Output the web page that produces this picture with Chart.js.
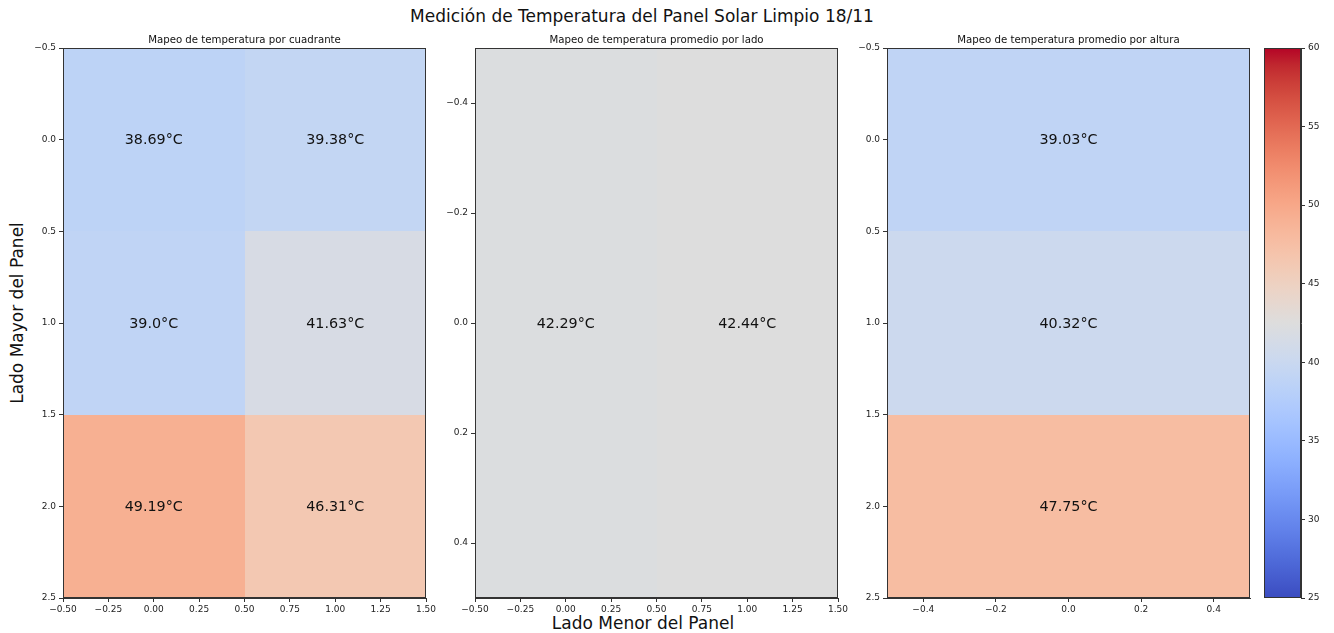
<!DOCTYPE html>
<html>
<head>
<meta charset="utf-8">
<script src="https://cdn.jsdelivr.net/npm/chart.js@4.4.1/dist/chart.umd.min.js"></script>
<style>
  body { margin: 0; background: #fff; font-family: "DejaVu Sans", sans-serif; }
  #wrap { position: relative; width: 1334px; height: 633px; overflow: hidden; }
  canvas { position: absolute; top: 0; }
  .txt { position: absolute; color: #111; white-space: nowrap; font-size: 17px; }
</style>
</head>
<body>
<div id="wrap">
  <div class="txt" id="suptitle" style="left:0; width:1284px; top:6px; text-align:center; line-height:20px;">Medición de Temperatura del Panel Solar Limpio 18/11</div>
  <div class="txt" id="ylab" style="left:17px; top:313px; transform: translate(-50%,-50%) rotate(-90deg);">Lado Mayor del Panel</div>
  <div class="txt" style="left:643px; top:623px; transform: translate(-50%,-50%);">Lado Menor del Panel</div>
  <canvas id="quad" width="445" height="633" style="left:0;width:445px;height:633px"></canvas>
  <canvas id="side" width="412" height="633" style="left:445px;width:412px;height:633px"></canvas>
  <canvas id="alt" width="400" height="633" style="left:857px;width:400px;height:633px"></canvas>
  <canvas id="cbar" width="77" height="633" style="left:1257px;width:77px;height:633px"></canvas>
</div>
<script>
// temperatures (°C)
var quadrantValues = [
    [38.69, 39.38],
    [39.0, 41.63],
    [49.19, 46.31]
];
var sideValues = [42.29, 42.44];
var heightValues = [39.03, 40.32, 47.75];

var quadXTicks = [-0.5, -0.25, 0, 0.25, 0.5, 0.75, 1, 1.25, 1.5];
var quadYTicks = [-0.5, 0, 0.5, 1, 1.5, 2, 2.5];
var sideXTicks = [-0.5, -0.25, 0, 0.25, 0.5, 0.75, 1, 1.25, 1.5];
var sideYTicks = [-0.4, -0.2, 0, 0.2, 0.4];
var heightXTicks = [-0.4, -0.2, 0, 0.2, 0.4];
var heightYTicks = [-0.5, 0, 0.5, 1, 1.5, 2, 2.5];
var colorbarTicks = [25, 30, 35, 40, 45, 50, 55, 60];
var vmin = 25, vmax = 60;

// matplotlib coolwarm
var coolwarm = [
    [59,76,192],[68,90,204],[77,104,215],[87,117,225],[98,130,234],[108,142,241],
    [119,154,247],[130,165,251],[141,176,254],[152,185,255],[163,194,255],[174,201,253],
    [184,208,249],[194,213,244],[204,217,238],[213,219,230],[221,221,221],[229,216,209],
    [236,211,197],[241,204,184],[245,196,172],[247,187,160],[247,177,148],[247,166,135],
    [244,154,123],[241,141,111],[236,127,99],[229,112,88],[222,96,77],[213,80,66],
    [203,62,56],[192,40,47],[180,4,38]
];

function colorFor(v) {
    var t = Math.min(1, Math.max(0, (v - vmin) / (vmax - vmin)));
    var p = t * (coolwarm.length - 1);
    var i = Math.min(coolwarm.length - 2, Math.floor(p));
    var f = p - i;
    var a = coolwarm[i], b = coolwarm[i + 1];
    var c = [0, 1, 2].map(function(k) { return Math.round(a[k] + (b[k] - a[k]) * f); });
    return 'rgb(' + c.join(',') + ')';
}

function fmt(dec) {
    return function(v) {
        var s = Math.abs(v).toFixed(dec);
        return (v < -1e-9 ? '\u2212' : '') + s;
    };
}

function cellLabel(v) {
    return (Number.isInteger(v) ? v.toFixed(1) : String(v)) + '°C';
}

function toPoints(grid) {
    var pts = [];
    grid.forEach(function(row, r) {
        row.forEach(function(v, c) { pts.push({ x: c, y: r, v: v }); });
    });
    return pts;
}

var axisColor = '#333';
var tickFont = { family: 'DejaVu Sans', size: 9 };

var heatmapPlugin = {
    id: 'heatmap',
    beforeDatasetsDraw: function(chart) {
        var ctx = chart.ctx, xs = chart.scales.x, ys = chart.scales.y;
        ctx.save();
        chart.data.datasets[0].data.forEach(function(p) {
            var x0 = Math.round(xs.getPixelForValue(p.x - 0.5)), x1 = Math.round(xs.getPixelForValue(p.x + 0.5));
            var y0 = Math.round(ys.getPixelForValue(p.y - 0.5)), y1 = Math.round(ys.getPixelForValue(p.y + 0.5));
            ctx.fillStyle = colorFor(p.v);
            ctx.fillRect(Math.min(x0, x1), Math.min(y0, y1), Math.abs(x1 - x0), Math.abs(y1 - y0));
        });
        ctx.restore();
    },
    afterDatasetsDraw: function(chart) {
        var ctx = chart.ctx, xs = chart.scales.x, ys = chart.scales.y, a = chart.chartArea;
        ctx.save();
        ctx.font = '14.3px "DejaVu Sans"';
        ctx.fillStyle = '#111';
        ctx.textAlign = 'center';
        ctx.textBaseline = 'middle';
        chart.data.datasets[0].data.forEach(function(p) {
            ctx.fillText(cellLabel(p.v), xs.getPixelForValue(p.x), ys.getPixelForValue(p.y) + 1);
        });
        ctx.strokeStyle = axisColor;
        ctx.lineWidth = 1;
        ctx.strokeRect(Math.round(a.left) + 0.5, Math.round(a.top) + 0.5,
            Math.round(a.right - a.left) - 1, Math.round(a.bottom - a.top) - 1);
        ctx.restore();
    }
};

function fixedTicks(list) {
    return function(scale) {
        scale.ticks = list.map(function(v) { return { value: v }; });
    };
}

function heatmap(id, points, title, xr, yr, xTicks, yTicks, xDec, yDec, yWidth, padRight) {
    return new Chart(document.getElementById(id), {
        type: 'scatter',
        data: { datasets: [{ data: points, pointRadius: 0, pointHoverRadius: 0 }] },
        options: {
            responsive: false,
            animation: false,
            events: [],
            layout: { padding: { left: 0, right: padRight, top: 0, bottom: 15 } },
            plugins: {
                legend: { display: false },
                tooltip: { enabled: false },
                title: {
                    display: true,
                    text: title,
                    fullSize: false,
                    color: '#111',
                    font: { family: 'DejaVu Sans', size: 10.2, weight: 'normal', lineHeight: 1.2 },
                    padding: { top: 34.5, bottom: 1.3 }
                }
            },
            scales: {
                x: {
                    type: 'linear', min: xr[0], max: xr[1],
                    afterBuildTicks: fixedTicks(xTicks),
                    afterFit: function(s) { s.height = 20; },
                    grid: { drawOnChartArea: false, drawTicks: true, tickLength: 4, color: axisColor },
                    border: { display: true, color: axisColor },
                    ticks: { color: '#222', font: tickFont, padding: 2, maxRotation: 0, autoSkip: false, callback: fmt(xDec) }
                },
                y: {
                    type: 'linear', min: yr[0], max: yr[1], reverse: true,
                    afterBuildTicks: fixedTicks(yTicks),
                    afterFit: function(s) { s.width = yWidth; },
                    grid: { drawOnChartArea: false, drawTicks: true, tickLength: 4, color: axisColor },
                    border: { display: true, color: axisColor },
                    ticks: { color: '#222', font: tickFont, padding: 3, autoSkip: false, callback: fmt(yDec) }
                }
            }
        },
        plugins: [heatmapPlugin]
    });
}

heatmap('quad', toPoints(quadrantValues), 'Mapeo de temperatura por cuadrante',
    [-0.5, 1.5], [-0.5, 2.5], quadXTicks, quadYTicks, 2, 1, 63, 19);
heatmap('side', toPoints([sideValues]), 'Mapeo de temperatura promedio por lado',
    [-0.5, 1.5], [-0.5, 0.5], sideXTicks, sideYTicks, 2, 1, 30, 19);
heatmap('alt', toPoints(heightValues.map(function(v) { return [v]; })), 'Mapeo de temperatura promedio por altura',
    [-0.5, 0.5], [-0.5, 2.5], heightXTicks, heightYTicks, 1, 1, 30, 7);

// colorbar
var colorbarPlugin = {
    id: 'colorbar',
    beforeDatasetsDraw: function(chart) {
        var ctx = chart.ctx, ys = chart.scales.y, a = chart.chartArea;
        var g = ctx.createLinearGradient(0, ys.getPixelForValue(vmin), 0, ys.getPixelForValue(vmax));
        coolwarm.forEach(function(c, i) {
            g.addColorStop(i / (coolwarm.length - 1), 'rgb(' + c.join(',') + ')');
        });
        ctx.save();
        ctx.fillStyle = g;
        ctx.fillRect(a.left, a.top, a.right - a.left, a.bottom - a.top);
        ctx.strokeStyle = axisColor;
        ctx.lineWidth = 1;
        ctx.strokeRect(Math.round(a.left) + 0.5, Math.round(a.top) + 0.5,
            Math.round(a.right - a.left) - 1, Math.round(a.bottom - a.top) - 1);
        ctx.restore();
    }
};

new Chart(document.getElementById('cbar'), {
    type: 'scatter',
    data: { datasets: [{ data: [], pointRadius: 0 }] },
    options: {
        responsive: false,
        animation: false,
        events: [],
        layout: { padding: { left: 7, right: 0, top: 48, bottom: 35 } },
        plugins: { legend: { display: false }, tooltip: { enabled: false } },
        scales: {
            x: { type: 'linear', min: 0, max: 1, display: false },
            y: {
                type: 'linear', position: 'right', min: vmin, max: vmax,
                afterBuildTicks: fixedTicks(colorbarTicks),
                afterFit: function(s) { s.width = 33; },
                grid: { drawOnChartArea: false, drawTicks: true, tickLength: 4, color: axisColor },
                border: { display: true, color: axisColor },
                ticks: { color: '#222', font: tickFont, padding: 3, autoSkip: false }
            }
        }
    },
    plugins: [colorbarPlugin]
});
</script>
</body>
</html>
